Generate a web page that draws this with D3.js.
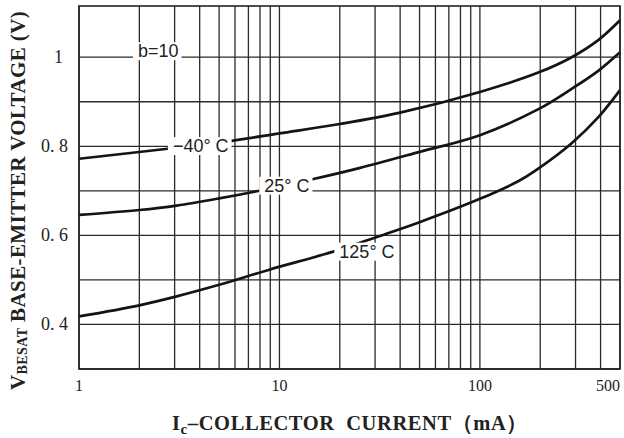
<!DOCTYPE html>
<html>
<head>
<meta charset="utf-8">
<script src="https://cdn.jsdelivr.net/npm/d3@7"></script>
<style>
  body { margin: 0; background: #fff; }
  svg { display: block; }
</style>
</head>
<body>
<svg></svg>
<script>
// collector current (mA) tick labels along the bottom
const xTickValues = [1, 10, 100, 500];
// base-emitter voltage tick labels
const yTickValues = [0.4, 0.6, 0.8, 1.0];
const yTickLabels = ["0. 4", "0. 6", "0. 8", "1"];

// curves: [Ic (mA), Vbe(sat) (V)]
const curveMinus40 = [[1, 0.772], [2.7, 0.794], [5.3, 0.810], [10, 0.829], [20, 0.850],
  [39.5, 0.875], [100, 0.922], [197, 0.966], [287, 1.0], [391, 1.039], [500, 1.083]];
const curve25 = [[1, 0.646], [2, 0.657], [3.07, 0.667], [5, 0.683], [7.5, 0.698],
  [14.6, 0.726], [25, 0.751], [49.6, 0.787], [100, 0.825], [197, 0.884], [287, 0.929],
  [391, 0.970], [500, 1.011]];
const curve125 = [[1, 0.418], [2, 0.443], [3.07, 0.463], [5, 0.489], [8.9, 0.523],
  [18.4, 0.563], [30.4, 0.596], [49.6, 0.629], [100, 0.682], [156, 0.722],
  [190, 0.746], [287, 0.807], [391, 0.866], [500, 0.926]];

// in-plot labels, anchored at [Ic, V]
const labelTexts = ["b=10", "\u221240", "25", "125"];
const labelDegree = [false, true, true, true];
const labelAnchors = [[1.97, 1.0], [2.94, 0.787], [8.4, 0.698], [19.9, 0.55]];

const width = 624, height = 438;
const m = { left: 79, right: 620, top: 6, bottom: 369 };

const svg = d3.select("svg")
  .attr("width", width)
  .attr("height", height);

svg.append("rect").attr("width", width).attr("height", height).attr("fill", "#fff");

const x = d3.scaleLog().domain([1, 500]).range([m.left, m.right]);
const y = d3.scaleLinear().domain([0.3, 1.115]).range([m.bottom, m.top]);

// grid
const grid = svg.append("g").attr("stroke", "#2a2a2a").attr("stroke-width", 1.3);
grid.selectAll(".vg")
  .data(x.ticks())
  .enter().append("line")
  .attr("x1", d => x(d)).attr("x2", d => x(d))
  .attr("y1", m.top).attr("y2", m.bottom);
grid.selectAll(".hg")
  .data(y.ticks(8).filter(t => t <= 1.001))
  .enter().append("line")
  .attr("x1", m.left).attr("x2", m.right)
  .attr("y1", d => y(d)).attr("y2", d => y(d));

// curves
const line = d3.line()
  .x(d => x(d[0]))
  .y(d => y(d[1]))
  .curve(d3.curveCatmullRom.alpha(0.5));

svg.selectAll(".curve")
  .data([curveMinus40, curve25, curve125])
  .enter().append("path")
  .attr("d", line)
  .attr("fill", "none")
  .attr("stroke", "#141414")
  .attr("stroke-width", 2.7);

// labels with white boxes
labelTexts.forEach((txt, i) => {
  const g = svg.append("g");
  const t = g.append("text")
    .attr("x", x(labelAnchors[i][0]))
    .attr("y", y(labelAnchors[i][1]))
    .attr("font-family", "Liberation Sans, Arial, sans-serif")
    .attr("font-size", 18)
    .attr("fill", "#222")
    .text(labelDegree[i] ? txt + "\u00b0 C" : txt);
  const bb = t.node().getBBox();
  g.insert("rect", "text")
    .attr("x", bb.x - 5).attr("y", bb.y + 1)
    .attr("width", bb.width + 8).attr("height", bb.height - 2)
    .attr("fill", "#fff");
});

// frame
svg.append("rect")
  .attr("x", m.left).attr("y", m.top)
  .attr("width", m.right - m.left).attr("height", m.bottom - m.top)
  .attr("fill", "none")
  .attr("stroke", "#222")
  .attr("stroke-width", 1.6);

// tick labels
svg.selectAll(".xl")
  .data(xTickValues)
  .enter().append("text")
  .attr("x", d => d === 500 ? x(d) - 12 : x(d))
  .attr("y", 391)
  .attr("text-anchor", "middle")
  .attr("font-family", "Liberation Serif, Times New Roman, serif")
  .attr("font-size", 16)
  .attr("fill", "#222")
  .text(d => d);

svg.selectAll(".yl")
  .data(yTickValues)
  .enter().append("text")
  .attr("x", (d, i) => yTickLabels[i] === "1" ? 63 : 68)
  .attr("y", d => y(d) + 6)
  .attr("text-anchor", "end")
  .attr("font-family", "Liberation Serif, Times New Roman, serif")
  .attr("font-size", 18)
  .attr("fill", "#222")
  .text((d, i) => yTickLabels[i]);

// axis titles
const xt = svg.append("text")
  .attr("x", 172).attr("y", 430)
  .attr("font-family", "Liberation Serif, Times New Roman, serif")
  .attr("font-weight", "bold")
  .attr("font-size", 20.5)
  .attr("letter-spacing", 0.6)
  .attr("fill", "#222");
xt.append("tspan").text("I");
xt.append("tspan").attr("font-size", 15).attr("dy", 4).text("c");
xt.append("tspan").attr("dy", -4).text("\u2013COLLECTOR\u00a0 CURRENT\uff08mA\uff09");

const yt = svg.append("text")
  .attr("transform", "translate(25,390) rotate(-90)")
  .attr("font-family", "Liberation Serif, Times New Roman, serif")
  .attr("font-weight", "bold")
  .attr("font-size", 21)
  .attr("letter-spacing", 0.4)
  .attr("fill", "#222");
yt.append("tspan").text("V");
yt.append("tspan").attr("font-size", 14).attr("dy", 2).text("BESAT");
yt.append("tspan").attr("dy", -2).text(" BASE-EMITTER VOLTAGE (V)");
</script>
</body>
</html>
